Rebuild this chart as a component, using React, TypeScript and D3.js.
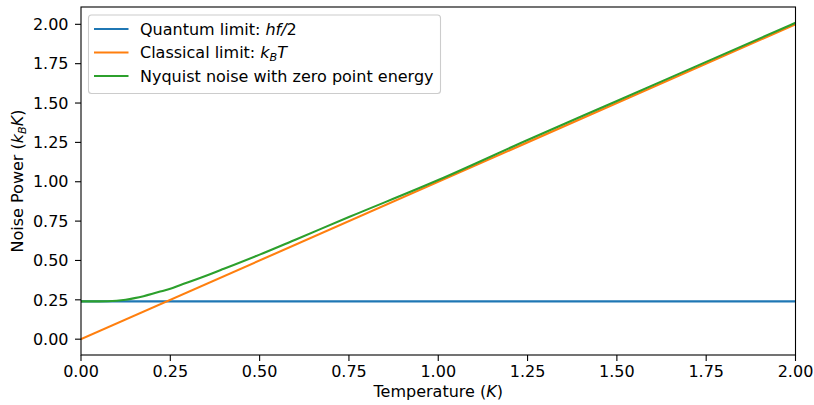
import React, { useEffect } from "react";
import * as d3 from "d3";

const xTicks = [0, 0.25, 0.5, 0.75, 1.0, 1.25, 1.5, 1.75, 2.0];
const yTicks = [0, 0.25, 0.5, 0.75, 1.0, 1.25, 1.5, 1.75, 2.0];

const quantumT = [0, 2];
const quantumP = [0.24, 0.24];

const classicalT = [0, 2];
const classicalP = [0, 2];

const nyquistT = [0, 0.05, 0.075, 0.1, 0.125, 0.15, 0.175, 0.2, 0.225, 0.25, 0.275, 0.3, 0.35, 0.4, 0.5, 0.6, 0.75, 1.0, 1.25, 1.5, 1.75, 2.0];
const nyquistP = [0.24, 0.24, 0.2408, 0.244, 0.2505, 0.2606, 0.273, 0.288, 0.3045, 0.321, 0.3415, 0.3614, 0.403, 0.447, 0.537, 0.632, 0.7757, 1.0109, 1.2653, 1.5128, 1.7614, 2.0096];

const colors = ["#1f77b4", "#ff7f0e", "#2ca02c"];

const W = 814;
const H = 405;
const left = 81;
const right = 795.5;
const top = 7;
const bottom = 355;

const FONT = "'DejaVu Sans', sans-serif";
const FS = 16;

export default function App() {
  useEffect(() => {
    document.body.style.margin = "0";
  }, []);

  const x = d3.scaleLinear().domain([0, 2]).range([left, right]);
  const y = d3.scaleLinear().domain([-0.1005, 2.11]).range([bottom, top]);

  const line = d3
    .line<[number, number]>()
    .x((d) => x(d[0]))
    .y((d) => y(d[1]));
  const smooth = d3
    .line<[number, number]>()
    .x((d) => x(d[0]))
    .y((d) => y(d[1]))
    .curve(d3.curveMonotoneX);

  const series = [
    { d: line(quantumT.map((t, i) => [t, quantumP[i]] as [number, number])) },
    { d: line(classicalT.map((t, i) => [t, classicalP[i]] as [number, number])) },
    { d: smooth(nyquistT.map((t, i) => [t, nyquistP[i]] as [number, number])) },
  ];

  const legendRows = [
    (
      <>
        Quantum limit: <tspan fontStyle="italic">hf</tspan>
        <tspan fontStyle="italic">/</tspan>2
      </>
    ),
    (
      <>
        Classical limit: <tspan fontStyle="italic">k</tspan>
        <tspan fontStyle="italic" fontSize={FS * 0.7} dy={3}>B</tspan>
        <tspan fontStyle="italic" dy={-3}>T</tspan>
      </>
    ),
    <>Nyquist noise with zero point energy</>,
  ];

  return (
    <svg width={W} height={H} style={{ display: "block" }} fontFamily={FONT} fontSize={FS}>
      <rect x={0} y={0} width={W} height={H} fill="white" />
      <defs>
        <clipPath id="plotclip">
          <rect x={left} y={top} width={right - left} height={bottom - top} />
        </clipPath>
      </defs>
      <g clipPath="url(#plotclip)">
        {series.map((s, i) => (
          <path key={i} d={s.d || ""} fill="none" stroke={colors[i]} strokeWidth={2.1} strokeLinecap="square" strokeLinejoin="round" />
        ))}
      </g>
      {/* spines */}
      <rect x={left} y={top} width={right - left} height={bottom - top} fill="none" stroke="black" strokeWidth={1.1} />
      {/* x ticks */}
      {xTicks.map((t) => (
        <g key={"x" + t}>
          <line x1={x(t)} x2={x(t)} y1={bottom} y2={bottom + 6} stroke="black" strokeWidth={1.1} />
          <text x={x(t)} y={bottom + 22} textAnchor="middle" fill="black">
            {t.toFixed(2)}
          </text>
        </g>
      ))}
      {/* y ticks */}
      {yTicks.map((t) => (
        <g key={"y" + t}>
          <line x1={left - 6} x2={left} y1={y(t)} y2={y(t)} stroke="black" strokeWidth={1.1} />
          <text x={left - 12.5} y={y(t) + 5.7} textAnchor="end" fill="black">
            {t.toFixed(2)}
          </text>
        </g>
      ))}
      {/* axis labels */}
      <text x={(left + right) / 2} y={397} textAnchor="middle" fill="black">
        Temperature (<tspan fontStyle="italic">K</tspan>)
      </text>
      <text transform={`translate(23,${(top + bottom) / 2}) rotate(-90)`} textAnchor="middle" fill="black">
        Noise Power (<tspan fontStyle="italic">k</tspan>
        <tspan fontStyle="italic" fontSize={FS * 0.7} dy={3}>B</tspan>
        <tspan fontStyle="italic" dy={-3}>K</tspan>)
      </text>
      {/* legend */}
      <rect x={88.5} y={15} width={352} height={78.5} rx={3} fill="white" fillOpacity={0.8} stroke="#cccccc" strokeWidth={1.1} />
      {legendRows.map((r, i) => {
        const cy = 29 + i * 23.5;
        return (
          <g key={"l" + i}>
            <line x1={94} x2={128.5} y1={cy} y2={cy} stroke={colors[i]} strokeWidth={2.1} />
            <text x={140} y={cy + 5.7} fill="black">
              {r}
            </text>
          </g>
        );
      })}
    </svg>
  );
}
